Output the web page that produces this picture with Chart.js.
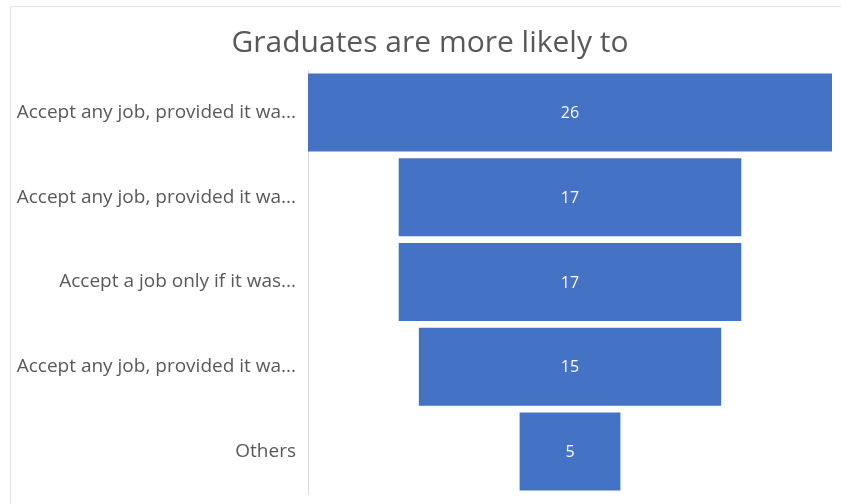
<!DOCTYPE html>
<html>
<head>
<meta charset="utf-8">
<script src="https://cdn.jsdelivr.net/npm/chart.js@4"></script>
<style>
  html, body { margin: 0; padding: 0; background: #fff; }
  #wrap { position: relative; width: 841px; height: 504px; }
  #frame { position: absolute; left: 10px; top: 6px; right: -2px; bottom: -2px; border: 1px solid #e3e3e3; }
  canvas { position: absolute; left: 0; top: 0; }
</style>
</head>
<body>
<div id="wrap">
  <div id="frame"></div>
  <canvas id="funnel" width="841" height="504"></canvas>
</div>
<script>
const chartTitle = 'Graduates are more likely to';
const categories = [
  'Accept any job, provided it wa...',
  'Accept any job, provided it wa...',
  'Accept a job only if it was...',
  'Accept any job, provided it wa...',
  'Others'
];
const counts = [26, 17, 17, 15, 5];

// funnel: every bar is a floating bar centred on the widest one
const widest = Math.max(...counts);
const spans = counts.map(v => [(widest - v) / 2, (widest + v) / 2]);

const valueLabels = {
  id: 'valueLabels',
  afterDatasetsDraw(chart) {
    const ctx = chart.ctx;
    const meta = chart.getDatasetMeta(0);
    ctx.save();
    ctx.fillStyle = '#ffffff';
    ctx.font = '16px "Open Sans", sans-serif';
    ctx.textAlign = 'center';
    ctx.textBaseline = 'middle';
    meta.data.forEach((bar, i) => {
      const p = bar.getProps(['x', 'base', 'y'], true);
      ctx.fillText(String(counts[i]), (p.x + p.base) / 2, p.y + 1);
    });
    ctx.restore();
  }
};

// title sits over the whole frame, not just the plot box
const frameTitle = {
  id: 'frameTitle',
  afterDraw(chart) {
    const ctx = chart.ctx;
    ctx.save();
    ctx.fillStyle = '#595959';
    ctx.font = '30px "Open Sans", sans-serif';
    ctx.textAlign = 'center';
    ctx.textBaseline = 'middle';
    ctx.fillText(chartTitle, 430, 43);
    ctx.restore();
  }
};

new Chart(document.getElementById('funnel'), {
  type: 'bar',
  data: {
    labels: categories,
    datasets: [{
      data: spans,
      backgroundColor: '#4472c4',
      borderWidth: 0,
      borderSkipped: false,
      barPercentage: 1,
      categoryPercentage: 0.92
    }]
  },
  options: {
    indexAxis: 'y',
    responsive: false,
    animation: false,
    layout: { padding: { left: 0, right: 9, bottom: 10, top: 70 } },
    plugins: {
      legend: { display: false },
      tooltip: { enabled: false },
      title: { display: false }
    },
    scales: {
      x: { display: false, min: 0, max: widest },
      y: {
        afterFit(scale) {
          scale.width = 308;
          scale.paddingTop = 0;
          scale.paddingBottom = 0;
        },
        grid: { display: false },
        border: { display: true, color: '#d9d9d9' },
        ticks: {
          color: '#595959',
          padding: 4,
          font: { family: '"Open Sans", sans-serif', size: 19 }
        }
      }
    }
  },
  plugins: [valueLabels, frameTitle]
});
</script>
</body>
</html>
